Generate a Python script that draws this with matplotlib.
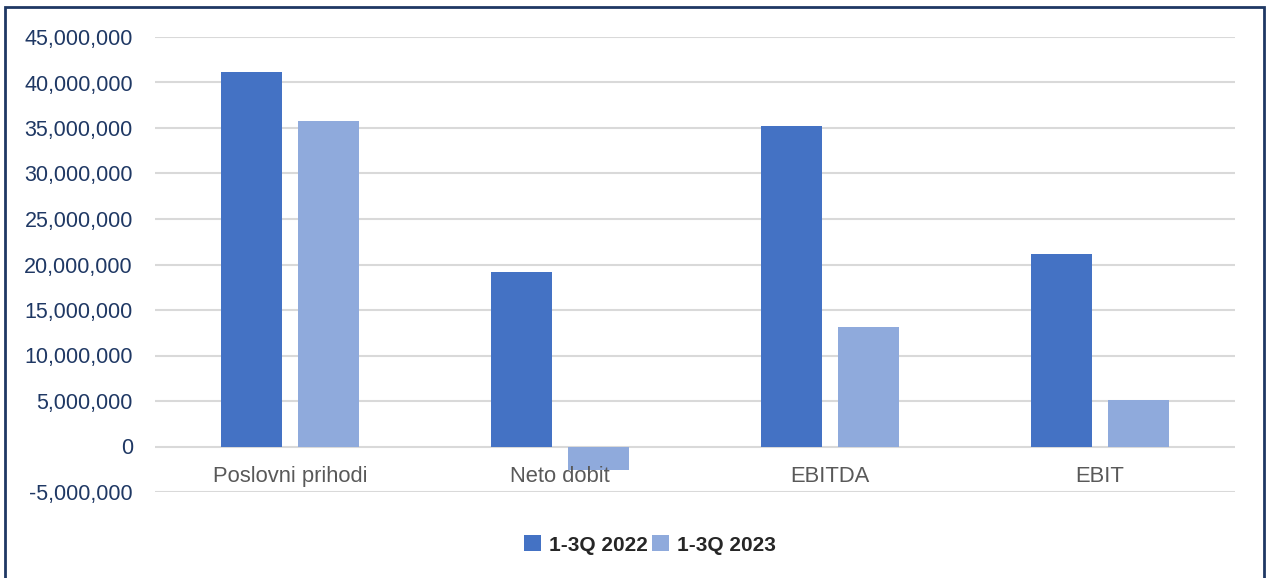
# Recreates the 1-3Q 2022 vs 1-3Q 2023 bar chart

import matplotlib.pyplot as plt
from matplotlib.patches import Rectangle
from matplotlib.ticker import FuncFormatter
import numpy as np

categories = ["Poslovni prihodi", "Neto dobit", "EBITDA", "EBIT"]
series_names = ["1-3Q 2022", "1-3Q 2023"]
values_2022 = [41_200_000, 19_150_000, 35_200_000, 21_200_000]
values_2023 = [35_750_000, -2_600_000, 13_150_000, 5_150_000]

DARK = "#4472C4"
LIGHT = "#8FAADC"
NAVY = "#1F3864"

plt.rcParams["font.family"] = ["Liberation Sans", "DejaVu Sans"]

fig = plt.figure(figsize=(12.68, 5.78), dpi=100)
ax = fig.add_axes([155 / 1268, 1 - 492 / 578, 1080 / 1268, 455 / 578])

x = np.arange(len(categories))
w = 0.226
off = 0.1426
ax.bar(x - off, values_2022, w, color=DARK, label=series_names[0], zorder=3)
ax.bar(x + off, values_2023, w, color=LIGHT, label=series_names[1], zorder=3)

ax.set_xlim(-0.5, 3.5)
ax.set_ylim(-5_000_000, 45_000_000)
ax.set_yticks(np.arange(-5_000_000, 45_000_001, 5_000_000))
ax.yaxis.set_major_formatter(FuncFormatter(lambda v, p: f"{int(v):,}"))
ax.grid(axis="y", color="#D9D9D9", linewidth=1.5, zorder=0)
for s in ax.spines.values():
    s.set_visible(False)
ax.tick_params(axis="y", length=0, pad=16, labelsize=15.5, labelcolor=NAVY)
ax.set_xticks([])

# category labels sit just under the zero line
for i, c in enumerate(categories):
    ax.text(i, -3_300_000, c, ha="center", va="center", fontsize=15.8, color="#595959")

fig.legend(loc="center", bbox_to_anchor=(650 / 1268, 1 - 545 / 578), ncol=2,
           frameon=False, handlelength=0.8, handleheight=0.8, handletextpad=0.4,
           columnspacing=0.2, prop={"weight": "bold", "size": 15},
           labelcolor="#262626")

fig.add_artist(Rectangle((5 / 1268, -0.01), 1259 / 1268, 1 - 7 / 578 + 0.01,
                         transform=fig.transFigure, fill=False,
                         edgecolor=NAVY, linewidth=2))

fig.savefig("out.png", dpi=100)
